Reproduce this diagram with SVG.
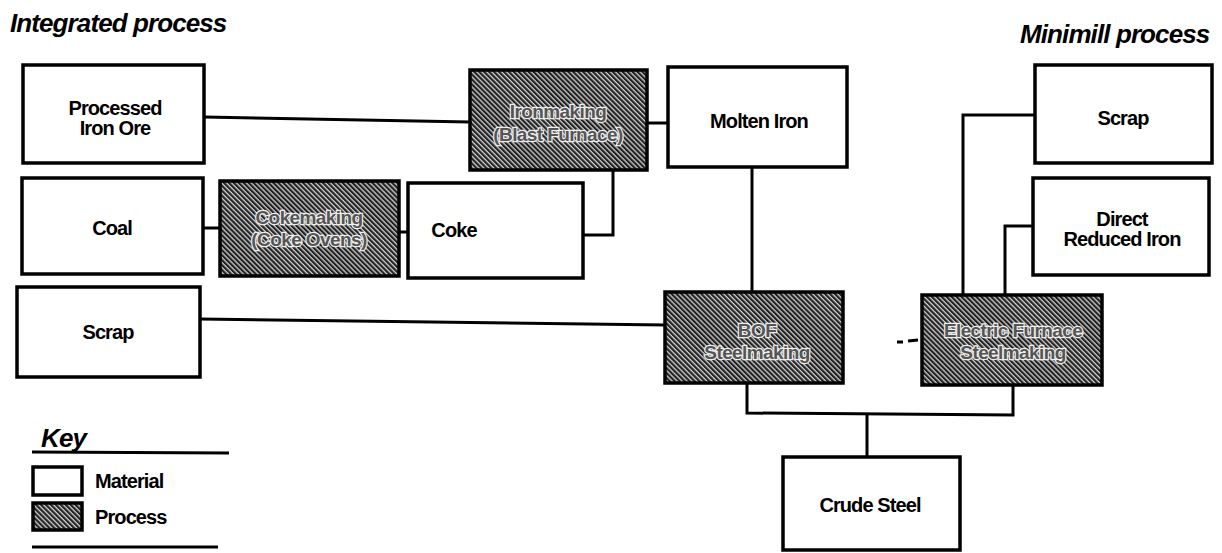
<svg xmlns="http://www.w3.org/2000/svg" width="1222" height="553" viewBox="0 0 1222 553">
<defs>
<pattern id="ht" width="3.5" height="3.5" patternUnits="userSpaceOnUse" patternTransform="rotate(45)">
<rect width="3.5" height="3.5" fill="#222"/>
<rect width="3.5" height="1.3" fill="#d0d0d0"/>
</pattern>
</defs>
<style>
.mat{fill:#fff;stroke:#000;stroke-width:3.5}
.proc{fill:url(#ht);stroke:#000;stroke-width:3.5}
.t{font-family:"Liberation Sans",Arial,sans-serif;font-weight:bold;font-size:20px;fill:#000;text-anchor:middle;letter-spacing:-0.9px}
.pt{font-family:"Liberation Sans",Arial,sans-serif;font-weight:bold;font-size:19px;fill:#555;stroke:#eee;stroke-width:2.5;paint-order:stroke;text-anchor:middle;letter-spacing:-0.6px}
.h{font-family:"Liberation Sans",Arial,sans-serif;font-weight:bold;font-style:italic;font-size:26px;fill:#000;letter-spacing:-0.9px}
.c{fill:none;stroke:#000;stroke-width:3}
</style>
<rect width="1222" height="553" fill="#fff"/>
<text class="h" x="10" y="32">Integrated process</text>
<text class="h" x="1020" y="43">Minimill process</text>

<g id="connectors">
<path class="c" d="M204,117 L470,122"/>
<path class="c" d="M647,123 L668,123"/>
<path class="c" d="M203,228 L220,228"/>
<path class="c" d="M399,232 L408,232"/>
<path class="c" d="M583,235 L613,235 L613,170"/>
<path class="c" d="M752,167 L752,292"/>
<path class="c" d="M200,319 L665,325"/>
<path class="c" d="M1035,115 L963,115 L963,295"/>
<path class="c" d="M1033,226 L1005,226 L1005,295"/>
<path class="c" d="M747,383 L747,413 L1013,415 L1013,385"/>
<path class="c" d="M867,414 L867,457"/>
<path class="c" d="M897,342 L903,342 M908,341 L918,340" stroke-width="2"/>
</g>

<g id="ore"><rect class="mat" x="23" y="65" width="181" height="98"/>
<text class="t" x="115" y="115">Processed</text><text class="t" x="115" y="135">Iron Ore</text></g>
<g id="coal"><rect class="mat" x="22" y="178" width="181" height="96"/>
<text class="t" x="112" y="235">Coal</text></g>
<g id="scrap1"><rect class="mat" x="17" y="287" width="183" height="90"/>
<text class="t" x="108" y="339">Scrap</text></g>
<g id="cokemaking"><rect class="proc" x="220" y="181" width="179" height="95"/>
<text class="pt" x="309" y="224">Cokemaking</text><text class="pt" x="309" y="246">(Coke Ovens)</text></g>
<g id="coke"><rect class="mat" x="408" y="183" width="175" height="95"/>
<text class="t" x="454" y="237">Coke</text></g>
<g id="ironmaking"><rect class="proc" x="470" y="70" width="177" height="100"/>
<text class="pt" x="558" y="118">Ironmaking</text><text class="pt" x="558" y="141">(Blast Furnace)</text></g>
<g id="molten"><rect class="mat" x="668" y="67" width="179" height="100"/>
<text class="t" x="759" y="128">Molten Iron</text></g>
<g id="bof"><rect class="proc" x="665" y="292" width="178" height="91"/>
<text class="pt" x="757" y="337">BOF</text><text class="pt" x="757" y="359">Steelmaking</text></g>
<g id="scrap2"><rect class="mat" x="1035" y="65" width="177" height="98"/>
<text class="t" x="1123" y="125">Scrap</text></g>
<g id="dri"><rect class="mat" x="1033" y="178" width="176" height="97"/>
<text class="t" x="1122" y="226">Direct</text><text class="t" x="1122" y="246">Reduced Iron</text></g>
<g id="eaf"><rect class="proc" x="922" y="295" width="180" height="90"/>
<text class="pt" x="1013" y="337">Electric Furnace</text><text class="pt" x="1013" y="359">Steelmaking</text></g>
<g id="crude"><rect class="mat" x="783" y="457" width="177" height="93"/>
<text class="t" x="870" y="512">Crude Steel</text></g>

<g id="key">
<text class="h" x="41" y="447" font-size="21">Key</text>
<line x1="32" y1="452" x2="229" y2="453" stroke="#000" stroke-width="3"/>
<rect class="mat" x="33" y="467" width="49" height="28" stroke-width="3"/>
<text class="t" x="95" y="488" style="text-anchor:start">Material</text>
<rect class="proc" x="33" y="503" width="49" height="27" stroke-width="3"/>
<text class="t" x="95" y="524" style="text-anchor:start">Process</text>
<line x1="32" y1="547" x2="218" y2="547" stroke="#000" stroke-width="3"/>
</g>
</svg>
